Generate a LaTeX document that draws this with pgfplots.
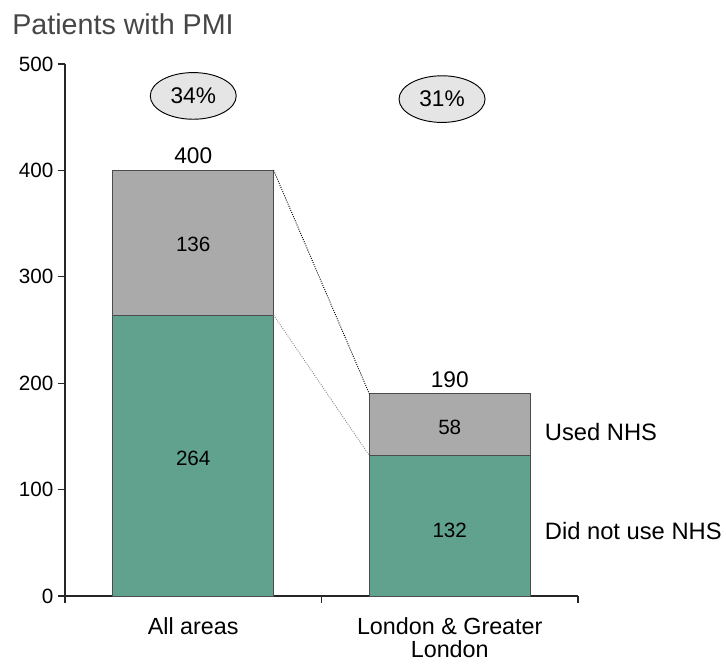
\documentclass[border=0pt]{standalone}
\usepackage{fontspec}
\setmainfont{Liberation Sans}
\usepackage{pgfplots}
\pgfplotsset{compat=1.18}
\usetikzlibrary{shapes.geometric}
\definecolor{nhsgreen}{RGB}{96,162,142}
\definecolor{nhsgray}{RGB}{170,170,170}
\definecolor{titlegray}{RGB}{70,70,70}
\begin{document}
\begin{tikzpicture}
\useasboundingbox (-48.75pt,-52.5pt) rectangle (495.75pt,447pt);
\node[anchor=base west, text=titlegray, font=\fontsize{21.5}{26}\selectfont, inner sep=0pt] at (-39.75pt,421pt) {Patients with PMI};
\begin{axis}[
 scale only axis, width=384.75pt, height=399pt,
 xmin=-0.5, xmax=1.5, ymin=0, ymax=500,
 ybar stacked, bar width=0.627,
 axis lines*=left,
 axis line style={black!85, line width=0.8pt},
 xtick={-0.5,0.5,1.5}, x tick label as interval,
 xticklabels={All areas, {London \& Greater\\London}},
 x tick label style={align=center, font=\fontsize{17.5}{17}\selectfont, yshift=-10.5pt, inner sep=0.5pt},
 ytick={0,100,...,500},
 tick align=outside, major tick length=5.25pt,
 tick style={black!85, line width=0.8pt},
 y tick label style={font=\fontsize{15.5}{18}\selectfont},
 /pgf/number format/assume math mode=true,
 clip=false,
 after end axis/.code={
  \draw[black, densely dotted, line width=0.7pt] (axis cs:0.3135,400) -- (axis cs:0.6865,190);
  \draw[black!45, densely dotted, line width=0.7pt] (axis cs:0.3135,264) -- (axis cs:0.6865,132);
  \node[font=\fontsize{17}{20}\selectfont] at (axis cs:0,414) {400};
  \node[font=\fontsize{17}{20}\selectfont] at (axis cs:1,203) {190};
  \node[font=\fontsize{15.5}{18}\selectfont] at (axis cs:0,330) {136};
  \node[font=\fontsize{15.5}{18}\selectfont] at (axis cs:0,129) {264};
  \node[font=\fontsize{15.5}{18}\selectfont] at (axis cs:1,158) {58};
  \node[font=\fontsize{15.5}{18}\selectfont] at (axis cs:1,62) {132};
  \node[anchor=west, inner sep=0pt, font=\fontsize{17.8}{20}\selectfont] at (axis cs:1.37,154) {Used NHS};
  \node[anchor=west, inner sep=0pt, font=\fontsize{17.8}{20}\selectfont] at (axis cs:1.37,61) {Did not use NHS};
  \node[draw=black, fill=black!10, ellipse, minimum width=64.5pt, minimum height=35pt, inner sep=0pt, line width=0.7pt, font=\fontsize{17}{20}\selectfont] at (axis cs:0,470) {34\%};
  \node[draw=black, fill=black!10, ellipse, minimum width=64.5pt, minimum height=35pt, inner sep=0pt, line width=0.7pt, font=\fontsize{17}{20}\selectfont] at (axis cs:0.97,467) {31\%};
 },
]
\addplot[fill=nhsgreen, draw=black!70, line width=0.6pt] coordinates {(0,264) (1,132)};
\addplot[fill=nhsgray, draw=black!70, line width=0.6pt] coordinates {(0,136) (1,58)};
\end{axis}
\end{tikzpicture}
\end{document}
